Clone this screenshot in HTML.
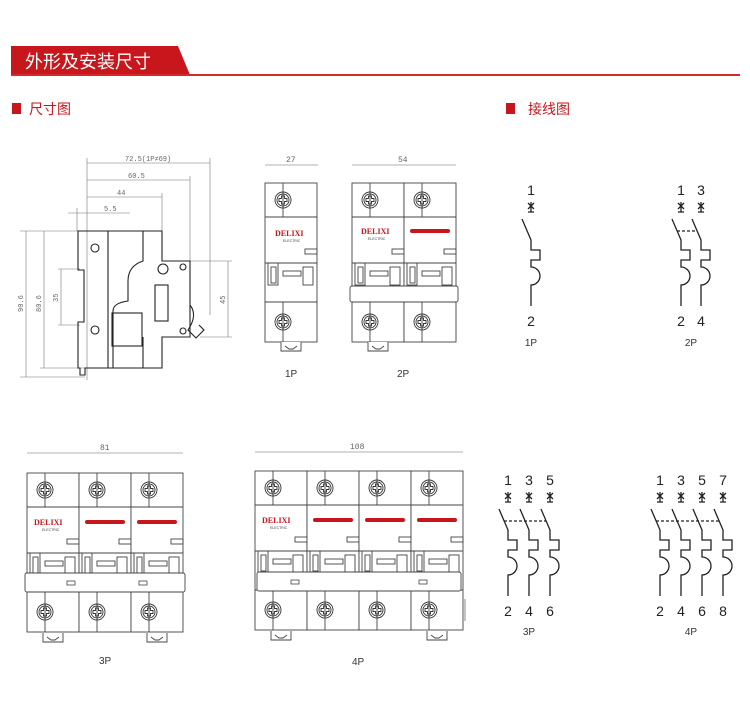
<!DOCTYPE html>
<html><head><meta charset="utf-8"><style>
body{margin:0;background:#fff;}
svg{display:block;font-family:"Liberation Sans","Noto Sans CJK SC",sans-serif;}
</style></head><body>
<svg width="750" height="702" viewBox="0 0 750 702" xmlns="http://www.w3.org/2000/svg">
<defs>
<g id="scr" fill="none" stroke="#333" stroke-width="0.9">
<circle r="8"/><circle r="6"/>
<path d="M-1.5,-4h3v2.5h2.5v3h-2.5v2.5h-3v-2.5h-2.5v-3h2.5z"/>
</g>
<g id="mod" fill="none" stroke="#444" stroke-width="0.9">
<rect x="0" y="0" width="52" height="159" fill="#fff"/>
<line x1="0" y1="34" x2="52" y2="34"/>
<line x1="18" y1="0" x2="18" y2="34"/>
<line x1="18" y1="119" x2="18" y2="159"/>
<line x1="0" y1="80" x2="52" y2="80"/>
<line x1="0" y1="119" x2="52" y2="119"/>
<rect x="40" y="66" width="12" height="5"/>
<rect x="3" y="80" width="10" height="22"/>
<rect x="6" y="84" width="5" height="16"/>
<rect x="18" y="88" width="18" height="5"/>
<rect x="38" y="84" width="10" height="18"/>
<use href="#scr" x="18" y="17"/>
<use href="#scr" x="18" y="139"/>
</g>
<g id="clip" fill="#fff" stroke="#444" stroke-width="0.9">
<path d="M0,0v9h20v-9"/><path d="M4,4l4,3h4l4,-3"/>
</g>
<g id="pole" fill="none" stroke="#222" stroke-width="1.3">
<path d="M-3,13l6,6M3,13l-6,6M0,12v10M-3,22h6"/>
<path d="M-9,29L0,50v10h9v10h-9v7a9,9 0 0 1 0,18v21"/>
</g>
</defs>

<!-- header -->
<polygon points="11,46 178,46 190,75 11,75" fill="#c8161d"/>
<rect x="11" y="74" width="729" height="2" fill="#d42a2f"/>
<text x="25" y="68" font-size="18" fill="#fff">外形及安装尺寸</text>
<rect x="12" y="103" width="9" height="11" fill="#c8161d"/>
<text x="29" y="114" font-size="14" fill="#c8161d">尺寸图</text>
<rect x="506" y="103" width="9" height="11" fill="#c8161d"/>
<text x="528" y="114" font-size="14" fill="#c8161d">接线图</text>

<!-- side view -->
<g fill="none" stroke="#777" stroke-width="0.6">
<line x1="87" y1="163" x2="210" y2="163"/><line x1="87" y1="180" x2="190" y2="180"/>
<line x1="87" y1="197" x2="162" y2="197"/><line x1="68" y1="213" x2="130" y2="213"/>
<line x1="87" y1="158" x2="87" y2="380"/><line x1="210" y1="158" x2="210" y2="315"/>
<line x1="190" y1="176" x2="190" y2="261"/><line x1="162" y1="193" x2="162" y2="231"/>
<line x1="77" y1="208" x2="77" y2="231"/>
<line x1="26" y1="231" x2="26" y2="377"/><line x1="44" y1="231" x2="44" y2="368"/>
<line x1="61" y1="269" x2="61" y2="325"/><line x1="228" y1="261" x2="228" y2="337"/>
<line x1="20" y1="231" x2="78" y2="231"/><line x1="40" y1="368" x2="85" y2="368"/>
<line x1="20" y1="377" x2="85" y2="377"/><line x1="58" y1="269" x2="80" y2="269"/>
<line x1="58" y1="325" x2="80" y2="325"/><line x1="190" y1="261" x2="232" y2="261"/>
<line x1="200" y1="337" x2="232" y2="337"/>
</g>
<g font-family="Liberation Mono,monospace" font-size="7" fill="#666">
<text x="125" y="161">72.5(1P≠69)</text><text x="128" y="178">60.5</text>
<text x="117" y="195">44</text><text x="104" y="211">5.5</text>
<text transform="translate(23,312) rotate(-90)">90.6</text>
<text transform="translate(41,312) rotate(-90)">80.6</text>
<text transform="translate(58,302) rotate(-90)">35</text>
<text transform="translate(225,304) rotate(-90)">45</text>
</g>
<g fill="none" stroke="#222" stroke-width="1.1">
<path d="M78,231H162V261H190V337H162V368H85V375H80V368H78V322H84V270H78Z"/>
<line x1="108" y1="231" x2="108" y2="368"/>
<path d="M143,231v30q-15,5 -15,20v20q-15,2 -15,10v57"/>
<line x1="143" y1="337" x2="143" y2="368"/>
<circle cx="95" cy="248" r="4"/><circle cx="95" cy="330" r="4"/>
<circle cx="163" cy="269" r="5"/><circle cx="183" cy="267" r="3"/><circle cx="183" cy="331" r="3"/>
<rect x="155" y="285" width="13" height="36"/>
<rect x="112" y="313" width="30" height="33"/>
<path d="M190,305q8,10 -2,25l8,8l8,-8l-5,-5"/>
</g>

<!-- 1P -->
<use href="#mod" x="265" y="183"/>
<use href="#clip" x="281" y="342"/>
<text x="275" y="236" font-size="8" font-weight="bold" fill="#c8161d" font-family="Liberation Serif,serif">DELIXI</text>
<text x="283" y="242" font-size="3.5" fill="#444">ELECTRIC</text>
<line x1="265" y1="165" x2="318" y2="165" stroke="#666" stroke-width="0.6"/>
<text x="286" y="162" font-size="8" fill="#666" font-family="Liberation Mono,monospace">27</text>
<text x="285" y="377" font-size="10" fill="#333">1P</text>

<!-- 2P -->
<use href="#mod" x="352" y="183"/><use href="#mod" x="404" y="183"/>
<rect x="350" y="286" width="108" height="16" rx="2" fill="#fff" stroke="#444" stroke-width="0.9"/>
<use href="#clip" x="368" y="342"/>
<text x="361" y="234" font-size="8" font-weight="bold" fill="#c8161d" font-family="Liberation Serif,serif">DELIXI</text>
<text x="368" y="240" font-size="3.5" fill="#444">ELECTRIC</text>
<rect x="410" y="229" width="40" height="4" rx="2" fill="#c8161d"/>
<line x1="352" y1="165" x2="456" y2="165" stroke="#666" stroke-width="0.6"/>
<text x="398" y="162" font-size="8" fill="#666" font-family="Liberation Mono,monospace">54</text>
<text x="397" y="377" font-size="10" fill="#333">2P</text>

<!-- 3P -->
<g transform="translate(27,473)">
<use href="#mod" x="0"/><use href="#mod" x="52"/><use href="#mod" x="104"/>
<rect x="-2" y="100" width="160" height="19" rx="2" fill="#fff" stroke="#444" stroke-width="0.9"/>
<rect x="40" y="108" width="8" height="4" fill="none" stroke="#444" stroke-width="0.8"/>
<rect x="112" y="108" width="8" height="4" fill="none" stroke="#444" stroke-width="0.8"/>
<use href="#clip" x="16" y="160"/><use href="#clip" x="120" y="160"/>
<text x="7" y="52" font-size="8" font-weight="bold" fill="#c8161d" font-family="Liberation Serif,serif">DELIXI</text>
<text x="15" y="58" font-size="3.5" fill="#444">ELECTRIC</text>
<rect x="58" y="47" width="40" height="4" rx="2" fill="#c8161d"/>
<rect x="110" y="47" width="40" height="4" rx="2" fill="#c8161d"/>
</g>
<line x1="27" y1="453" x2="183" y2="453" stroke="#666" stroke-width="0.6"/>
<text x="100" y="450" font-size="8" fill="#666" font-family="Liberation Mono,monospace">81</text>
<text x="99" y="664" font-size="10" fill="#333">3P</text>

<!-- 4P -->
<g transform="translate(255,471)">
<use href="#mod" x="0"/><use href="#mod" x="52"/><use href="#mod" x="104"/><use href="#mod" x="156"/>
<rect x="2" y="101" width="204" height="19" rx="2" fill="#fff" stroke="#444" stroke-width="0.9"/>
<rect x="36" y="109" width="8" height="4" fill="none" stroke="#444" stroke-width="0.8"/>
<rect x="164" y="109" width="8" height="4" fill="none" stroke="#444" stroke-width="0.8"/>
<line x1="210" y1="128" x2="210" y2="150" stroke="#888" stroke-width="1"/>
<use href="#clip" x="16" y="160"/><use href="#clip" x="172" y="160"/>
<text x="7" y="52" font-size="8" font-weight="bold" fill="#c8161d" font-family="Liberation Serif,serif">DELIXI</text>
<text x="15" y="58" font-size="3.5" fill="#444">ELECTRIC</text>
<rect x="58" y="47" width="40" height="4" rx="2" fill="#c8161d"/>
<rect x="110" y="47" width="40" height="4" rx="2" fill="#c8161d"/>
<rect x="162" y="47" width="40" height="4" rx="2" fill="#c8161d"/>
</g>
<line x1="255" y1="452" x2="463" y2="452" stroke="#666" stroke-width="0.6"/>
<text x="350" y="449" font-size="8" fill="#666" font-family="Liberation Mono,monospace">108</text>
<text x="352" y="665" font-size="10" fill="#333">4P</text>

<!-- wiring -->
<g font-size="14" fill="#222" text-anchor="middle">
<g transform="translate(531,190)"><use href="#pole"/><text y="5">1</text><text y="136">2</text></g>
<text x="531" y="346" font-size="10" fill="#333">1P</text>
<g transform="translate(681,190)"><use href="#pole"/><text y="5">1</text><text y="136">2</text></g>
<g transform="translate(701,190)"><use href="#pole"/><text y="5">3</text><text y="136">4</text></g>
<line x1="677" y1="231" x2="697" y2="231" stroke="#222" stroke-width="1.2" stroke-dasharray="3,2"/>
<text x="691" y="346" font-size="10" fill="#333">2P</text>

<g transform="translate(508,480)"><use href="#pole"/><text y="5">1</text><text y="136">2</text></g>
<g transform="translate(529,480)"><use href="#pole"/><text y="5">3</text><text y="136">4</text></g>
<g transform="translate(550,480)"><use href="#pole"/><text y="5">5</text><text y="136">6</text></g>
<line x1="504" y1="521" x2="546" y2="521" stroke="#222" stroke-width="1.2" stroke-dasharray="3,2"/>
<text x="529" y="635" font-size="10" fill="#333">3P</text>

<g transform="translate(660,480)"><use href="#pole"/><text y="5">1</text><text y="136">2</text></g>
<g transform="translate(681,480)"><use href="#pole"/><text y="5">3</text><text y="136">4</text></g>
<g transform="translate(702,480)"><use href="#pole"/><text y="5">5</text><text y="136">6</text></g>
<g transform="translate(723,480)"><use href="#pole"/><text y="5">7</text><text y="136">8</text></g>
<line x1="656" y1="521" x2="719" y2="521" stroke="#222" stroke-width="1.2" stroke-dasharray="3,2"/>
<text x="691" y="635" font-size="10" fill="#333">4P</text>
</g>
</svg>
</body></html>
